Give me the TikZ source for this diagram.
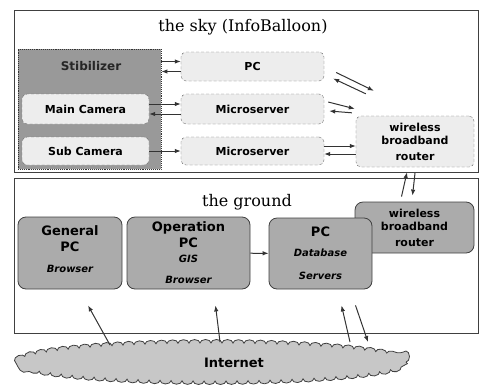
\documentclass[tikz,border=0pt]{standalone}
\usepackage{fontspec}
\newfontfamily\boxfont{DejaVu Sans}
\newfontfamily\titlefont{DejaVu Serif}
\usetikzlibrary{arrows.meta,shapes.geometric,decorations.pathmorphing}

\newcommand{\subtxt}[1]{{\fontsize{10}{12}\selectfont\itshape #1}}

\begin{document}
\begin{tikzpicture}[x=1pt, y=-1pt,
    arr/.style={-{Latex[length=6pt,width=4.5pt]}, line width=1pt, draw=black!80},
    panel/.style={draw=black!75, line width=0.9pt},
    title/.style={font=\titlefont\fontsize{16}{18}\selectfont},
    skybox/.style={rectangle, rounded corners=5pt, draw=black!55, densely dashed, fill=black!7,
        align=center, font=\boxfont\bfseries\fontsize{11}{14}\selectfont},
    gndbox/.style={rectangle, rounded corners=8pt, draw=black!75, line width=0.8pt, fill=black!33,
        align=center, font=\boxfont\bfseries\fontsize{13}{15}\selectfont}]

\useasboundingbox (0,0) rectangle (481,386);

% the two panels
\draw[panel] (14,10) rectangle (478,172);
\node[title] (skytitle) at (243,27) {the sky (InfoBalloon)};
\draw[panel] (14,178) rectangle (478,333);
\node[title] (gndtitle) at (247,202) {the ground};

% stabilizer with both cameras
\node[rectangle, draw=black!80, densely dotted, line width=0.9pt, fill=black!40,
    minimum width=143, minimum height=120] (stab) at (89.5,109) {};
\node[font=\boxfont\bfseries\fontsize{12}{14}\selectfont, text=black!85] (stablbl) at (91,66) {Stibilizer};
\node[skybox, minimum width=127, minimum height=30] (maincam) at (85.5,109) {Main Camera};
\node[skybox, minimum width=127, minimum height=28] (subcam) at (85.5,151) {Sub Camera};

% balloon computers
\node[skybox, minimum width=143, minimum height=29] (pc) at (252.5,66.5) {PC};
\node[skybox, minimum width=143, minimum height=30] (ms1) at (252.5,109) {Microserver};
\node[skybox, minimum width=143, minimum height=28] (ms2) at (252.5,151) {Microserver};
\node[skybox, minimum width=118, minimum height=51] (rtsky) at (415,141.5)
    {wireless\\[-1pt]broadband\\[2pt]router};

% ground computers
\node[gndbox, font=\boxfont\bfseries\fontsize{11}{14}\selectfont, minimum width=119, minimum height=51]
    (rtgnd) at (414.5,227.5) {wireless\\[-1pt]broadband\\[2pt]router};
\node[gndbox, minimum width=104, minimum height=72] (gpc) at (70,253)
    {General\\[1pt]PC\\[6pt]\subtxt{Browser}\\[-7pt]\mbox{}};
\node[gndbox, minimum width=123, minimum height=72] (opc) at (188.5,253)
    {Operation\\[1pt]PC\\[0pt]\subtxt{GIS}\\[6pt]\subtxt{Browser}};
\node[gndbox, minimum width=103, minimum height=71] (dbpc) at (320.5,253.5)
    {PC\\[5pt]\subtxt{Database}\\[8pt]\subtxt{Servers}};

% internet cloud
\node[ellipse, minimum width=394, minimum height=42] (inet) at (212,362) {};
\filldraw[draw=black!75, line width=0.8pt, fill=black!22,
    decorate, decoration={bumps, mirror, segment length=22pt, amplitude=3.5pt}]
    (inet.center) ellipse [x radius=194pt, y radius=19pt];
\node[font=\boxfont\bfseries\fontsize{13}{15}\selectfont] (inetlbl) at (234,363) {Internet};

% links inside the balloon
\draw[arr] ([yshift=5]pc.west -| stab.east) -- ([yshift=5]pc.west);
\draw[arr] ([yshift=-5]pc.west) -- ([yshift=-5]pc.west -| stab.east);
\draw[arr] ([yshift=5]maincam.east) -- ([yshift=5]ms1.west);
\draw[arr] ([yshift=-5]ms1.west) -- ([yshift=-5]maincam.east);
\draw[arr] (subcam) -- (ms2);
\draw[arr] ([yshift=5]ms2.east) -- ([yshift=5]ms2.east -| rtsky.west);
\draw[arr] ([yshift=-3]ms2.east -| rtsky.west) -- ([yshift=-3]ms2.east);

% radio links to the router
\draw[arr] ([shift={(12,6)}]pc.east) -- ([shift={(18,-25)}]rtsky.north west);
\draw[arr] ([shift={(10,-22)}]rtsky.north west) -- ([shift={(9,12)}]pc.east);
\draw[arr] ([shift={(4,-7)}]ms1.east) -- ([shift={(-1,-7)}]rtsky.north west);
\draw[arr] ([shift={(-4,-3)}]rtsky.north west) -- ([shift={(5,2)}]ms1.east);
\draw[arr] ([shift={(-13,-5)}]rtgnd.north) -- ([shift={(-8,5)}]rtsky.south);
\draw[arr] ([shift={(0,6)}]rtsky.south) -- ([shift={(-2,-6)}]rtgnd.north);

% links on the ground
\draw[arr] (opc) -- (dbpc);
\draw[arr] ([shift={(-102,-17)}]inet.center) -- ([shift={(18,16)}]gpc.south);
\draw[arr] ([shift={(8,-20)}]inet.center) -- ([shift={(27,16)}]opc.south);
\draw[arr] ([shift={(138,-20)}]inet.center) -- ([shift={(21,16)}]dbpc.south);
\draw[arr] ([shift={(35,16)}]dbpc.south) -- ([shift={(156,-20)}]inet.center);

\end{tikzpicture}
\end{document}
